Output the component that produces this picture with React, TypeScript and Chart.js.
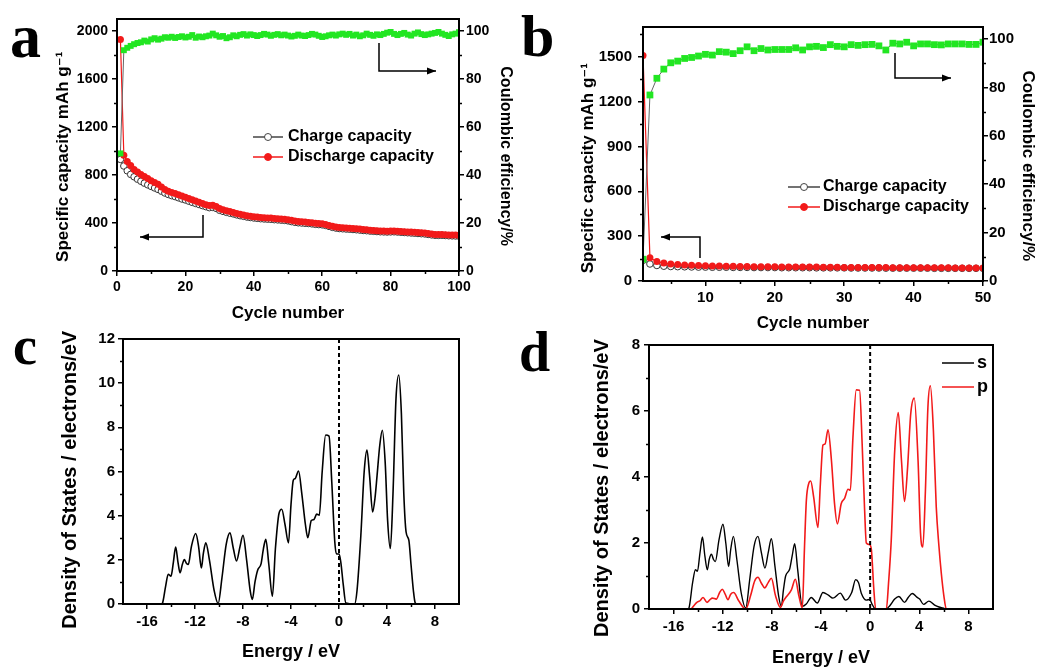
import React, { useEffect, useRef } from 'react';
import { Chart, registerables } from 'chart.js';
Chart.register(...registerables);

const FONT = "'Liberation Sans', Arial, Helvetica, 'DejaVu Sans', sans-serif";
const SERIF = "'Liberation Serif', 'Times New Roman', Times, serif";
const GREEN = '#22e622';
const RED = '#f21a1a';

// ---------------- Panel a ----------------
const cyclesA = [
  1, 2, 3, 4, 5, 6, 7, 8, 9, 10, 11, 12, 13, 14, 15, 16, 17, 18, 19, 20,
  21, 22, 23, 24, 25, 26, 27, 28, 29, 30, 31, 32, 33, 34, 35, 36, 37, 38, 39, 40,
  41, 42, 43, 44, 45, 46, 47, 48, 49, 50, 51, 52, 53, 54, 55, 56, 57, 58, 59, 60,
  61, 62, 63, 64, 65, 66, 67, 68, 69, 70, 71, 72, 73, 74, 75, 76, 77, 78, 79, 80,
  81, 82, 83, 84, 85, 86, 87, 88, 89, 90, 91, 92, 93, 94, 95, 96, 97, 98, 99, 100,
];
const dischargeA = [
  1930, 965, 912, 880, 845, 825, 805, 788, 770, 752, 738, 722, 700, 680, 665, 655, 645, 636, 625, 615,
  604, 593, 583, 572, 562, 552, 545, 548, 538, 520, 510, 502, 495, 488, 480, 472, 466, 460, 456, 452,
  449, 446, 444, 442, 441, 438, 436, 434, 432, 428, 422, 416, 412, 410, 408, 405, 402, 398, 396, 394,
  388, 380, 372, 366, 362, 360, 358, 356, 354, 352, 349, 346, 343, 340, 338, 336, 334, 333, 332, 333,
  334, 332, 330, 328, 326, 324, 322, 320, 318, 316, 312, 308, 305, 304, 305, 303, 301, 300, 299, 298,
];
const chargeA = [
  930, 875, 835, 805, 785, 765, 748, 732, 718, 705, 692, 680, 665, 650, 638, 628, 620, 610, 600, 592,
  582, 572, 563, 554, 545, 536, 528, 530, 522, 506, 497, 489, 482, 476, 468, 461, 456, 450, 446, 442,
  439, 436, 434, 432, 431, 428, 426, 424, 422, 418, 412, 406, 402, 400, 398, 396, 393, 389, 387, 385,
  380, 372, 364, 358, 354, 352, 350, 348, 346, 344, 341, 338, 336, 333, 331, 329, 327, 326, 325, 326,
  327, 325, 323, 321, 319, 317, 315, 313, 311, 309, 305, 301, 298, 297, 298, 296, 294, 293, 292, 291,
];
const efficiencyA = [
  49, 92, 93, 93.8, 94.5, 95, 95.3, 96, 95.6, 96.5, 97, 96.4, 96.8, 97.4, 97.2, 97.6, 97.1, 97.5, 97.8, 97.3,
  97.6, 98.3, 97.2, 97.7, 97.4, 97.8, 98.1, 98.9, 98.2, 97.6, 97.9, 97.0, 97.4, 98.2, 97.8, 98.4, 98.7, 98.1, 98.6, 98.3,
  97.9, 98.3, 98.8, 98.5, 98.0, 98.4, 98.7, 98.2, 98.5, 98.1, 97.7, 98.0, 98.5, 98.1, 97.9, 98.3, 98.8, 98.5, 98.0, 97.5,
  97.8, 98.2, 98.5, 98.1, 98.6, 98.9, 98.4, 98.8, 98.1, 98.5, 97.8, 98.2, 98.9, 98.4, 98.0, 98.6, 98.3, 98.8, 99.3, 99.6,
  98.8, 98.3, 98.8, 99.2, 98.5, 98.1, 98.9, 99.4, 98.7, 98.3, 98.6, 98.9, 99.2, 99.6, 98.9, 98.4, 97.9, 98.6, 98.9, 99.5,
];
const ticksAX = [0, 20, 40, 60, 80, 100];
const minorAX = [10, 30, 50, 70, 90];
const ticksAY = [0, 400, 800, 1200, 1600, 2000];
const minorAY = [200, 600, 1000, 1400, 1800];
const ticksEff = [0, 20, 40, 60, 80, 100];
const minorEff = [10, 30, 50, 70, 90];

// ---------------- Panel b ----------------
const cyclesB = [
  1, 2, 3, 4, 5, 6, 7, 8, 9, 10, 11, 12, 13, 14, 15, 16, 17, 18, 19, 20, 21, 22, 23, 24, 25,
  26, 27, 28, 29, 30, 31, 32, 33, 34, 35, 36, 37, 38, 39, 40, 41, 42, 43, 44, 45, 46, 47, 48, 49, 50,
];
const dischargeB = [
  1510, 155, 130, 120, 113, 110, 107, 105, 103, 102, 101, 100, 99, 98, 97, 97, 96, 96, 95, 95, 94, 94, 94, 93, 93,
  93, 92, 92, 92, 91, 91, 91, 91, 90, 90, 90, 89, 89, 89, 89, 88, 88, 88, 88, 88, 87, 87, 87, 87, 87,
];
const chargeB = [
  138, 114, 104, 99, 97, 96, 95, 94, 93, 93, 92, 92, 92, 91, 91, 91, 90, 90, 90, 90, 89, 89, 89, 89, 89,
  88, 88, 88, 88, 88, 87, 87, 87, 87, 87, 86, 86, 86, 86, 86, 86, 86, 85, 85, 85, 85, 85, 85, 85, 85,
];
const efficiencyB = [
  9, 76.9, 83.8, 87.6, 90.2, 90.9, 92, 92.4, 93, 93.7, 93.4, 94.8, 94.6, 94, 95.2, 96.8, 95.2, 96.1, 95.5, 95.7,
  95.7, 95.7, 96.4, 95.5, 96.8, 97, 96.5, 97.7, 97, 96.8, 97.7, 97.4, 97.7, 97.8, 97.2, 95.5, 98.3, 98, 98.7, 97.2,
  98, 98, 97.7, 97.6, 98, 98, 98, 97.8, 97.8, 98.7,
];
const ticksBX = [10, 20, 30, 40, 50];
const minorBX = [5, 15, 25, 35, 45];
const ticksBY = [0, 300, 600, 900, 1200, 1500];
const minorBY = [150, 450, 750, 1050, 1350, 1650];

// ---------------- Panel c ----------------
const energyC = [
  -16.2, -14.8, -14.7, -14.45, -14.23, -14.0, -13.8, -13.61, -13.42, -13.25, -13.05, -12.89, -12.72, -12.56,
  -12.3, -11.94, -11.7, -11.47, -11.3, -11.1, -10.8, -10.4, -10.07, -9.75, -9.4, -9.09, -8.8, -8.54, -8.25,
  -8.0, -7.7, -7.4, -7.22, -7.0, -6.78, -6.49, -6.3, -6.1, -5.85, -5.55, -5.3, -5.0, -4.77, -4.5, -4.21,
  -4.0, -3.81, -3.65, -3.37, -3.1, -2.8, -2.6, -2.31, -2.08, -1.86, -1.64, -1.4, -1.11, -0.83, -0.6, -0.35,
  -0.21, 0.0, 0.15, 0.35, 0.57, 1.3, 1.5, 1.82, 2.1, 2.33, 2.55, 2.8, 3.0, 3.17, 3.4, 3.61, 3.85, 4.05,
  4.28, 4.5, 4.75, 4.98, 5.2, 5.4, 5.59, 5.82, 6.0, 6.2, 6.35, 6.5, 7.8,
];
const dosC = [
  0, 0, 0.05, 0.8, 1.35, 1.26, 1.9, 2.58, 1.9, 1.41, 1.8, 2.01, 1.85, 1.79,
  2.6, 3.19, 2.6, 1.63, 2.3, 2.77, 2.0, 0.6, 0.02, 1.2, 2.7, 3.22, 2.5, 1.95, 2.6,
  3.11, 2.0, 0.6, 0.21, 1.0, 1.53, 1.83, 2.5, 2.93, 1.8, 0.35, 2.5, 4.1, 4.29, 3.6, 2.77,
  4.5, 5.6, 5.68, 6.02, 5.0, 3.6, 3.0, 3.78, 3.83, 4.07, 4.02, 6.0, 7.65, 7.6, 5.5, 2.81,
  2.28, 2.26, 1.9, 0.9, 0.05, 0, 0.6, 3.1, 6.0, 6.97, 5.8, 4.17, 4.8, 5.8, 7.2, 7.87, 6.4, 3.8,
  2.51, 5.0, 9.3, 10.37, 8.6, 5.0, 3.26, 2.89, 1.8, 0.6, 0.05, 0, 0,
];
const ticksEX = [-16, -12, -8, -4, 0, 4, 8];
const minorEX = [-14, -10, -6, -2, 2, 6];
const ticksCY = [0, 2, 4, 6, 8, 10, 12];
const minorCY = [1, 3, 5, 7, 9, 11];

// ---------------- Panel d ----------------
const energyS = [
  -16.2, -14.85, -14.75, -14.45, -14.22, -14.06, -13.85, -13.65, -13.45, -13.25, -13.1, -12.92, -12.75, -12.6,
  -12.3, -11.98, -11.75, -11.52, -11.35, -11.13, -10.85, -10.5, -10.13, -9.8, -9.45, -9.13, -8.85, -8.56, -8.3,
  -8.04, -7.75, -7.45, -7.23, -7.05, -6.88, -6.55, -6.35, -6.14, -5.9, -5.52, -5.2, -4.79, -4.3, -3.84, -3.4,
  -3.03, -2.43, -2.0, -1.5, -1.18, -0.95, -0.72, -0.31, -0.04, 0.15, 0.37, 0.6, 1.3, 1.6, 2.0, 2.34, 2.8,
  3.1, 3.43, 3.8, 4.03, 4.35, 4.78, 5.25, 5.6, 5.92, 6.2, 7.8,
];
const dosS = [
  0, 0, 0.03, 0.8, 1.19, 1.14, 1.7, 2.18, 1.6, 1.19, 1.5, 1.66, 1.5, 1.44,
  2.1, 2.57, 2.0, 1.29, 1.8, 2.2, 1.5, 0.5, 0.03, 0.9, 1.9, 2.2, 1.7, 1.24, 1.7,
  2.13, 1.3, 0.4, 0.08, 0.6, 1.0, 1.21, 1.6, 1.98, 1.2, 0.08, 0.15, 0.35, 0.18, 0.5, 0.42,
  0.33, 0.48, 0.27, 0.5, 0.89, 0.8, 0.48, 0.27, 0.29, 0.15, 0.02, 0, 0, 0.1, 0.3, 0.38, 0.2,
  0.35, 0.47, 0.36, 0.3, 0.14, 0.24, 0.12, 0.06, 0.03, 0, 0,
];
const energyP = [
  -16.2, -14.6, -14.35, -14.1, -13.85, -13.6, -13.28, -13.05, -12.84, -12.52, -12.25, -12.03, -11.8, -11.57,
  -11.35, -11.11, -10.7, -10.13, -9.7, -9.4, -9.13, -8.85, -8.59, -8.3, -8.04, -7.7, -7.31, -7.05, -6.82,
  -6.41, -6.09, -5.8, -5.52, -5.35, -5.19, -5.0, -4.84, -4.6, -4.25, -4.05, -3.84, -3.67, -3.43, -3.15, -2.9,
  -2.67, -2.35, -2.08, -1.8, -1.61, -1.4, -1.13, -0.86, -0.65, -0.45, -0.31, -0.04, 0.1, 0.3, 0.45, 1.32,
  1.5, 1.72, 2.0, 2.29, 2.55, 2.8, 3.05, 3.3, 3.59, 3.9, 4.1, 4.29, 4.5, 4.7, 4.9, 5.15, 5.38, 5.6, 5.79,
  6.0, 6.2, 7.8,
];
const dosP = [
  0, 0, 0.1, 0.2, 0.25, 0.35, 0.2, 0.28, 0.33, 0.3, 0.5, 0.6, 0.45, 0.28,
  0.45, 0.5, 0.25, 0, 0.45, 0.85, 0.96, 0.78, 0.64, 0.8, 0.93, 0.4, 0.05, 0.25, 0.37,
  0.58, 0.9, 0.4, 0.03, 1.8, 3.3, 3.8, 3.88, 3.4, 2.47, 3.8, 4.97, 5.0, 5.43, 4.5, 3.2,
  2.58, 3.2, 3.35, 3.63, 3.6, 5.2, 6.64, 6.63, 5.0, 3.0, 2.0, 1.95, 1.8, 0.6, 0, 0,
  0.8, 2.1, 4.8, 5.95, 4.5, 3.26, 4.3, 5.9, 6.39, 4.5, 2.3, 1.88, 3.6, 6.1, 6.76, 5.4, 3.1, 1.9, 1.09,
  0.4, 0, 0,
];
const ticksDY = [0, 2, 4, 6, 8];
const minorDY = [1, 3, 5, 7];

// ---------------- helpers ----------------
const fnt = (size: number, weight: any = 'bold') => ({ family: FONT, size, weight });
const pts = (xs: number[], ys: number[]) => xs.map((x, i) => ({ x, y: ys[i] }));
const sp = (n: number) => ' '.repeat(n);

type LegendItem = { x0: number; x1: number; y: number; text: string; color: string; marker?: 'open' | 'filled'; textX: number; size: number };
type FrameCfg = {
  minor: { axis: string; values: number[] }[];
  zeroLine?: boolean;
  arrows?: number[][][];
  legend?: LegendItem[];
};

function makeFrame(cfg: FrameCfg) {
  return {
    id: 'frame',
    afterDraw(chart: any) {
      const { ctx, chartArea } = chart;
      const { left, top, right, bottom } = chartArea;
      ctx.save();
      ctx.strokeStyle = '#000';
      ctx.fillStyle = '#000';
      ctx.lineWidth = 1.5;
      cfg.minor.forEach(({ axis, values }) => {
        const sc = chart.scales[axis];
        values.forEach((v) => {
          const p = Math.round(sc.getPixelForValue(v)) + 0.5;
          ctx.beginPath();
          if (axis === 'x') { ctx.moveTo(p, bottom); ctx.lineTo(p, bottom + 3); }
          else if (sc.position === 'left') { ctx.moveTo(left, p); ctx.lineTo(left - 3, p); }
          else { ctx.moveTo(right, p); ctx.lineTo(right + 3, p); }
          ctx.stroke();
        });
      });
      if (cfg.zeroLine) {
        const x0 = chart.scales.x.getPixelForValue(0);
        ctx.save();
        ctx.setLineDash([4, 3]);
        ctx.lineWidth = 2;
        ctx.beginPath();
        ctx.moveTo(x0, top);
        ctx.lineTo(x0, bottom);
        ctx.stroke();
        ctx.restore();
      }
      ctx.lineWidth = 2;
      ctx.strokeRect(left, top, right - left, bottom - top);
      (cfg.arrows || []).forEach((path) => {
        ctx.lineWidth = 1.5;
        ctx.beginPath();
        ctx.moveTo(path[0][0], path[0][1]);
        for (let i = 1; i < path.length; i++) ctx.lineTo(path[i][0], path[i][1]);
        ctx.stroke();
        const [ex, ey] = path[path.length - 1];
        const [px, py] = path[path.length - 2];
        const ang = Math.atan2(ey - py, ex - px);
        ctx.beginPath();
        ctx.moveTo(ex, ey);
        ctx.lineTo(ex - 9 * Math.cos(ang) + 3.5 * Math.sin(ang), ey - 9 * Math.sin(ang) - 3.5 * Math.cos(ang));
        ctx.lineTo(ex - 9 * Math.cos(ang) - 3.5 * Math.sin(ang), ey - 9 * Math.sin(ang) + 3.5 * Math.cos(ang));
        ctx.closePath();
        ctx.fill();
      });
      (cfg.legend || []).forEach((it) => {
        ctx.strokeStyle = it.color;
        ctx.lineWidth = 1.5;
        ctx.beginPath();
        ctx.moveTo(it.x0, it.y);
        ctx.lineTo(it.x1, it.y);
        ctx.stroke();
        if (it.marker) {
          const cx = (it.x0 + it.x1) / 2;
          ctx.beginPath();
          ctx.arc(cx, it.y, 3.5, 0, Math.PI * 2);
          ctx.fillStyle = it.marker === 'open' ? '#fff' : it.color;
          ctx.fill();
          ctx.lineWidth = 1;
          ctx.stroke();
        }
        ctx.fillStyle = '#000';
        ctx.font = `bold ${it.size}px ${FONT}`;
        ctx.textBaseline = 'middle';
        ctx.textAlign = 'left';
        ctx.fillText(it.text, it.textX, it.y);
      });
      ctx.restore();
    },
  };
}

function axis(opts: {
  position: string; min: number; max: number; ticks: number[]; size: number; tickFont: number; tickPad: number;
  title: string; titleFont: number; titlePad: number;
}) {
  const horizontal = opts.position === 'bottom';
  return {
    type: 'linear',
    position: opts.position,
    min: opts.min,
    max: opts.max,
    afterFit: (s: any) => { if (horizontal) s.height = opts.size; else s.width = opts.size; },
    afterBuildTicks: (s: any) => { s.ticks = opts.ticks.map((v) => ({ value: v })); },
    ticks: {
      font: fnt(opts.tickFont),
      color: '#000',
      padding: opts.tickPad,
      autoSkip: false,
      maxRotation: 0,
      minRotation: 0,
      callback: (v: any) => String(v),
    },
    grid: { drawOnChartArea: false, drawTicks: true, tickLength: 5, color: '#000', lineWidth: 1.5 },
    border: { display: false },
    title: {
      display: true,
      text: opts.title,
      color: '#000',
      font: fnt(opts.titleFont),
      padding: horizontal ? { top: 0, bottom: opts.titlePad } : { top: opts.titlePad, bottom: 0 },
    },
  };
}

const baseOptions = (padding: any) => ({
  animation: false,
  responsive: false,
  maintainAspectRatio: false,
  devicePixelRatio: 1,
  layout: { padding },
  plugins: { legend: { display: false }, tooltip: { enabled: false } },
  elements: { line: { capBezierPoints: true } },
});

function buildA() {
  return {
    type: 'line',
    data: {
      datasets: [
        { data: pts(cyclesA, efficiencyA), yAxisID: 'y1', borderColor: '#666', borderWidth: 1, pointStyle: 'rect', pointRadius: 4.2, pointBackgroundColor: GREEN, pointBorderColor: GREEN, pointBorderWidth: 0 },
        { data: pts(cyclesA, dischargeA), yAxisID: 'y', borderColor: RED, borderWidth: 1.2, pointRadius: 3.5, pointBackgroundColor: RED, pointBorderColor: RED, pointBorderWidth: 0 },
        { data: pts(cyclesA, chargeA), yAxisID: 'y', borderColor: '#555', borderWidth: 1, pointRadius: 3.3, pointBackgroundColor: '#fff', pointBorderColor: '#333', pointBorderWidth: 1 },
      ],
    },
    options: {
      ...baseOptions({ top: 19, left: 0, right: 0, bottom: 0 }),
      scales: {
        x: axis({ position: 'bottom', min: 0, max: 100, ticks: ticksAX, size: 59, tickFont: 14, tickPad: 3, title: 'Cycle number', titleFont: 17, titlePad: 6.8 }),
        y: axis({ position: 'left', min: 0, max: 2100, ticks: ticksAY, size: 117, tickFont: 14, tickPad: 4, title: 'Specific capacity mAh g\u207B\u00B9' + sp(5), titleFont: 17, titlePad: 52.8 }),
        y1: axis({ position: 'right', min: 0, max: 105, ticks: ticksEff, size: 61, tickFont: 14, tickPad: 2, title: sp(5) + 'Coulombic efficiency/%', titleFont: 16, titlePad: 5.4 }),
      },
    },
    plugins: [makeFrame({
      minor: [{ axis: 'x', values: minorAX }, { axis: 'y', values: minorAY }, { axis: 'y1', values: minorEff }],
      arrows: [[[203, 215], [203, 237], [140, 237]], [[379, 43], [379, 71], [436, 71]]],
      legend: [
        { x0: 253, x1: 283, y: 137, text: 'Charge capacity', color: '#444', marker: 'open', textX: 288, size: 16 },
        { x0: 253, x1: 283, y: 157, text: 'Discharge capacity', color: RED, marker: 'filled', textX: 288, size: 16 },
      ],
    })],
  };
}

function buildB() {
  return {
    type: 'line',
    data: {
      datasets: [
        { data: pts(cyclesB, efficiencyB), yAxisID: 'y1', borderColor: '#666', borderWidth: 1, pointStyle: 'rect', pointRadius: 4.8, pointBackgroundColor: GREEN, pointBorderColor: GREEN, pointBorderWidth: 0 },
        { data: pts(cyclesB, dischargeB), yAxisID: 'y', borderColor: RED, borderWidth: 1.2, pointRadius: 3.5, pointBackgroundColor: RED, pointBorderColor: RED, pointBorderWidth: 0 },
        { data: pts(cyclesB, chargeB), yAxisID: 'y', borderColor: '#555', borderWidth: 1, pointRadius: 3.3, pointBackgroundColor: '#fff', pointBorderColor: '#333', pointBorderWidth: 1 },
      ],
    },
    options: {
      ...baseOptions({ top: 27, left: 0, right: 0, bottom: 0 }),
      scales: {
        x: axis({ position: 'bottom', min: 1, max: 50, ticks: ticksBX, size: 59, tickFont: 15, tickPad: 3, title: 'Cycle number', titleFont: 17, titlePad: 6.8 }),
        y: axis({ position: 'left', min: 0, max: 1700, ticks: ticksBY, size: 123, tickFont: 15, tickPad: 6, title: 'Specific capacity mAh g\u207B\u00B9' + sp(6), titleFont: 17, titlePad: 57.8 }),
        y1: axis({ position: 'right', min: 0, max: 105, ticks: ticksEff, size: 55, tickFont: 15, tickPad: 1, title: sp(5) + 'Coulombic efficiency/%', titleFont: 17, titlePad: 0 }),
      },
    },
    plugins: [makeFrame({
      minor: [{ axis: 'x', values: minorBX }, { axis: 'y', values: minorBY }, { axis: 'y1', values: minorEff }],
      arrows: [[[180, 258], [180, 237], [141, 237]], [[375, 53], [375, 78], [431, 78]]],
      legend: [
        { x0: 268, x1: 300, y: 187, text: 'Charge capacity', color: '#444', marker: 'open', textX: 303, size: 16 },
        { x0: 268, x1: 300, y: 207, text: 'Discharge capacity', color: RED, marker: 'filled', textX: 303, size: 16 },
      ],
    })],
  };
}

function buildC() {
  return {
    type: 'line',
    data: {
      datasets: [
        { data: pts(energyC, dosC), borderColor: '#000', borderWidth: 1.6, pointRadius: 0, cubicInterpolationMode: 'monotone' },
      ],
    },
    options: {
      ...baseOptions({ top: 19, left: 0, right: 61, bottom: 0 }),
      scales: {
        x: axis({ position: 'bottom', min: -18, max: 10, ticks: ticksEX, size: 63, tickFont: 15, tickPad: 4, title: 'Energy / eV', titleFont: 18, titlePad: 4.2 }),
        y: axis({ position: 'left', min: 0, max: 12, ticks: ticksCY, size: 123, tickFont: 15, tickPad: 3, title: 'Density of States / electrons/eV' + sp(3), titleFont: 20, titlePad: 58 }),
      },
    },
    plugins: [makeFrame({
      minor: [{ axis: 'x', values: minorEX }, { axis: 'y', values: minorCY }],
      zeroLine: true,
    })],
  };
}

function buildD() {
  return {
    type: 'line',
    data: {
      datasets: [
        { data: pts(energyP, dosP), borderColor: RED, borderWidth: 1.6, pointRadius: 0, cubicInterpolationMode: 'monotone' },
        { data: pts(energyS, dosS), borderColor: '#000', borderWidth: 1.4, pointRadius: 0, cubicInterpolationMode: 'monotone' },
      ],
    },
    options: {
      ...baseOptions({ top: 15, left: 0, right: 45, bottom: 0 }),
      scales: {
        x: axis({ position: 'bottom', min: -18, max: 10, ticks: ticksEX, size: 58, tickFont: 15, tickPad: 4, title: 'Energy / eV', titleFont: 18, titlePad: -1.8 }),
        y: axis({ position: 'left', min: 0, max: 8, ticks: ticksDY, size: 129, tickFont: 15, tickPad: 4, title: 'Density of States / electrons/eV' + sp(4), titleFont: 20, titlePad: 70 }),
      },
    },
    plugins: [makeFrame({
      minor: [{ axis: 'x', values: minorEX }, { axis: 'y', values: minorDY }],
      zeroLine: true,
      legend: [
        { x0: 422, x1: 454, y: 33, text: 's', color: '#000', textX: 457, size: 18 },
        { x0: 422, x1: 454, y: 57, text: 'p', color: RED, textX: 457, size: 18 },
      ],
    })],
  };
}

function ChartCanvas({ left, top, width, height, build }: { left: number; top: number; width: number; height: number; build: () => any }) {
  const ref = useRef<HTMLCanvasElement>(null);
  useEffect(() => {
    const chart = new Chart(ref.current as HTMLCanvasElement, build());
    return () => chart.destroy();
  }, []);
  return (
    <canvas
      ref={ref}
      width={width}
      height={height}
      style={{ position: 'absolute', left, top, width, height, display: 'block' }}
    />
  );
}

const letterStyle = (left: number, top: number, size: number): React.CSSProperties => ({
  position: 'absolute',
  left,
  top,
  fontFamily: SERIF,
  fontWeight: 'bold',
  fontSize: size,
  lineHeight: 1,
  color: '#000',
});

export default function App() {
  return (
    <div style={{ position: 'absolute', left: 0, top: 0, width: 1038, height: 667, background: '#fff', overflow: 'hidden' }}>
      <ChartCanvas left={0} top={0} width={520} height={330} build={buildA} />
      <ChartCanvas left={520} top={0} width={518} height={340} build={buildB} />
      <ChartCanvas left={0} top={320} width={520} height={347} build={buildC} />
      <ChartCanvas left={520} top={330} width={518} height={337} build={buildD} />
      <div style={letterStyle(10, 5, 62)}>a</div>
      <div style={letterStyle(521, 6, 60)}>b</div>
      <div style={letterStyle(13, 319, 54)}>c</div>
      <div style={letterStyle(519, 324, 56)}>d</div>
    </div>
  );
}
